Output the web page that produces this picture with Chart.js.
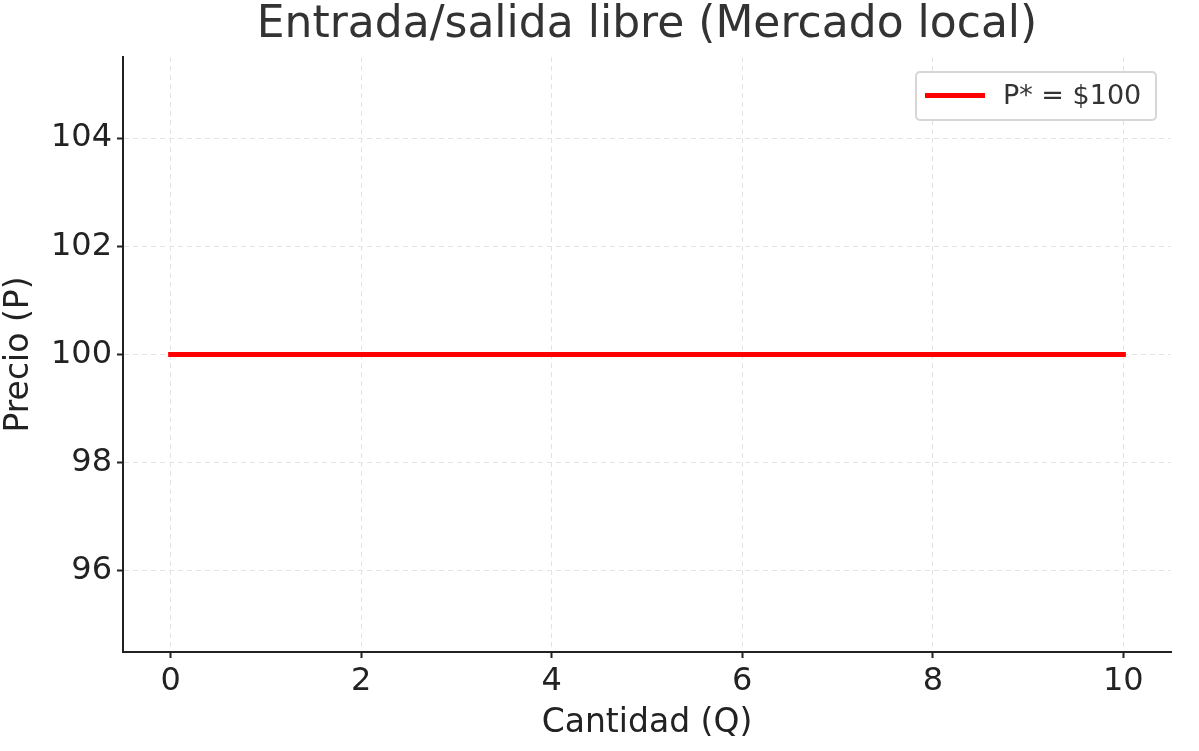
<!DOCTYPE html>
<html>
<head>
<meta charset="utf-8">
<script src="https://cdn.jsdelivr.net/npm/chart.js@4.4.0/dist/chart.umd.min.js"></script>
<style>
  html, body { margin: 0; padding: 0; background: #fff; }
  #wrap { position: relative; width: 1199px; height: 751px; }
  #legend {
    position: absolute; left: 915px; top: 71px; width: 242px; height: 50px;
    border: 2px solid #d6d6d6; border-radius: 5px; background: rgba(255,255,255,0.9);
    box-sizing: border-box; font-family: "DejaVu Sans", sans-serif; font-size: 27px; color: #333;
  }
  #legend .swatch { position: absolute; left: 8px; top: 20px; width: 60px; height: 5px; background: #f00; }
  #legend .label { position: absolute; left: 86px; top: 6px; white-space: nowrap; }
</style>
</head>
<body>
<div id="wrap">
  <canvas id="chart" width="1199" height="751"></canvas>
  <div id="legend"><div class="swatch"></div><div class="label">P* = $100</div></div>
</div>
<script>
    "use strict";

    // Datos de la curva de oferta de largo plazo
    var cantidad = [0, 10];
    var precio = [100, 100];
    var xTicks = [0, 2, 4, 6, 8, 10];
    var yTicks = [96, 98, 100, 102, 104];
    var titulo = 'Entrada/salida libre (Mercado local)';

    var font = "'DejaVu Sans', sans-serif";
    var grid = {
        color: '#e3e3e3',
        lineWidth: 1,
        drawTicks: true,
        tickLength: 6,
        tickColor: '#222',
        tickWidth: 2,
        tickBorderDash: []
    };

    // Título centrado sobre el área del gráfico (como en matplotlib)
    var tituloPlugin = {
        id: 'tituloPlugin',
        afterDraw: function (chart) {
            var ctx = chart.ctx;
            var area = chart.chartArea;
            ctx.save();
            ctx.font = "44px " + font;
            ctx.fillStyle = '#333';
            ctx.textAlign = 'center';
            ctx.textBaseline = 'middle';
            ctx.fillText(titulo, (area.left + area.right) / 2, 26);
            ctx.restore();
        }
    };

    new Chart(document.getElementById('chart'), {
        type: 'line',
        data: {
            datasets: [{
                label: 'P* = $100',
                data: cantidad.map(function (q, i) { return {x: q, y: precio[i]}; }),
                borderColor: '#ff0000',
                borderWidth: 5,
                borderCapStyle: 'square',
                pointRadius: 0,
                tension: 0
            }]
        },
        plugins: [tituloPlugin],
        options: {
            responsive: false,
            animation: false,
            layout: {padding: {left: 0, right: 28, top: 57, bottom: 0}},
            plugins: {
                legend: {display: false},
                tooltip: {enabled: false},
                title: {display: false}
            },
            scales: {
                x: {
                    type: 'linear',
                    min: -0.5,
                    max: 10.5,
                    afterBuildTicks: function (axis) {
                        axis.ticks = xTicks.map(function (v) { return {value: v}; });
                    },
                    afterFit: function (axis) { axis.height = 99; },
                    grid: grid,
                    border: {display: true, color: '#222', width: 2, dash: [5, 4]},
                    ticks: {color: '#222', padding: 4, font: {family: font, size: 32}},
                    title: {
                        display: true,
                        text: 'Cantidad (Q)',
                        color: '#222',
                        font: {family: font, size: 33},
                        padding: {top: 0, bottom: 8}
                    }
                },
                y: {
                    type: 'linear',
                    min: 94.5,
                    max: 105.5,
                    afterBuildTicks: function (axis) {
                        axis.ticks = yTicks.map(function (v) { return {value: v}; });
                    },
                    afterFit: function (axis) { axis.width = 123; },
                    grid: grid,
                    border: {display: true, color: '#222', width: 2, dash: [5, 4]},
                    ticks: {color: '#222', padding: 5, font: {family: font, size: 32}},
                    title: {
                        display: true,
                        text: 'Precio (P)',
                        color: '#222',
                        font: {family: font, size: 33},
                        padding: {top: 0, bottom: 0}
                    }
                }
            }
        }
    });
</script>
</body>
</html>
